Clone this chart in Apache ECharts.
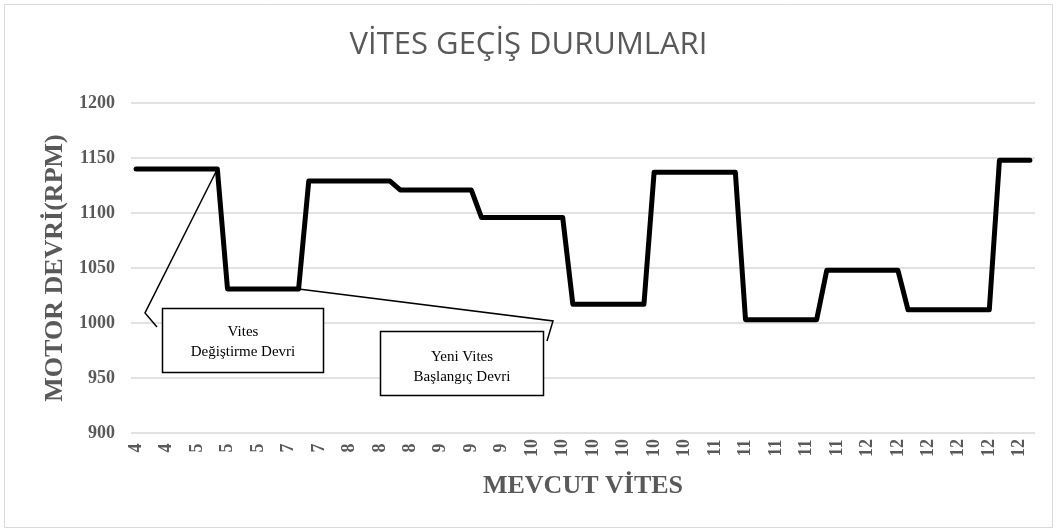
<!DOCTYPE html>
<html>
<head>
<meta charset="utf-8">
<script src="https://cdn.jsdelivr.net/npm/echarts@6/dist/echarts.min.js"></script>
<style>
  html, body { margin: 0; padding: 0; background: #ffffff; }
  #chart { width: 1057px; height: 532px; }
</style>
</head>
<body>
<div id="chart"></div>
<script>
// Current gear for every sample (x-axis categories)
const gears = [
  4, 4, 4, 4, 4, 4,
  5, 5, 5, 5, 5, 5, 5, 5, 5,
  7, 7, 7, 7, 7, 7,
  8, 8, 8, 8, 8, 8, 8, 8, 8,
  9, 9, 9, 9, 9, 9, 9, 9, 9,
  10, 10, 10, 10, 10, 10, 10, 10, 10, 10, 10, 10, 10, 10, 10, 10, 10, 10,
  11, 11, 11, 11, 11, 11, 11, 11, 11, 11, 11, 11, 11, 11, 11,
  12, 12, 12, 12, 12, 12, 12, 12, 12, 12, 12, 12, 12, 12, 12, 12, 12
];

// Engine speed (RPM) for every sample
const rpm = [
  1140, 1140, 1140, 1140, 1140, 1140, 1140, 1140, 1140,
  1031, 1031, 1031, 1031, 1031, 1031, 1031, 1031,
  1129, 1129, 1129, 1129, 1129, 1129, 1129, 1129, 1129,
  1121, 1121, 1121, 1121, 1121, 1121, 1121, 1121,
  1096, 1096, 1096, 1096, 1096, 1096, 1096, 1096, 1096,
  1017, 1017, 1017, 1017, 1017, 1017, 1017, 1017,
  1137, 1137, 1137, 1137, 1137, 1137, 1137, 1137, 1137,
  1003, 1003, 1003, 1003, 1003, 1003, 1003, 1003,
  1048, 1048, 1048, 1048, 1048, 1048, 1048, 1048,
  1012, 1012, 1012, 1012, 1012, 1012, 1012, 1012, 1012,
  1148, 1148, 1148, 1148
];

// Value axis range
const yMin = 900;
const yMax = 1200;
const yStep = 50;

// Callout texts and the sample each one points at
const calloutTexts = ['Vites\nDeğiştirme Devri', 'Yeni Vites\nBaşlangıç Devri'];
const calloutIndex = [8, 16];

const chartTitle = 'VİTES GEÇİŞ DURUMLARI';
const xName = 'MEVCUT VİTES';
const yName = 'MOTOR DEVRİ(RPM)';

const grey = '#595959';
const gridGrey = '#d9d9d9';
const serif = '"Liberation Serif", "Times New Roman", serif';

const chart = echarts.init(document.getElementById('chart'), null, { renderer: 'canvas' });

chart.setOption({
  backgroundColor: '#ffffff',
  animation: false,
  title: {
    text: chartTitle,
    left: 'center',
    top: 25,
    textStyle: {
      fontFamily: '"Open Sans", Lato, sans-serif',
      fontSize: 31,
      fontWeight: 'normal',
      color: grey
    }
  },
  grid: { left: 131, right: 22, top: 103, bottom: 99, containLabel: false },
  xAxis: {
    type: 'category',
    data: gears,
    boundaryGap: true,
    name: xName,
    nameLocation: 'middle',
    nameGap: 53,
    nameTextStyle: {
      fontFamily: serif, fontSize: 26, fontWeight: 'bold', color: grey,
      verticalAlign: 'middle'
    },
    axisLine: { show: false },
    axisTick: { show: false },
    axisLabel: {
      interval: 2,
      rotate: 90,
      align: 'center',
      margin: 15,
      fontFamily: serif, fontSize: 18, fontWeight: 'bold', color: grey
    }
  },
  yAxis: {
    type: 'value',
    min: yMin,
    max: yMax,
    interval: yStep,
    name: yName,
    nameLocation: 'middle',
    nameGap: 73,
    nameTextStyle: {
      fontFamily: serif, fontSize: 26, fontWeight: 'bold', color: grey,
      verticalAlign: 'middle'
    },
    axisLine: { show: false },
    axisTick: { show: false },
    axisLabel: {
      margin: 16,
      formatter: (v) => String(v),
      fontFamily: serif, fontSize: 18, fontWeight: 'bold', color: grey
    },
    splitLine: { lineStyle: { color: gridGrey, width: 1.5 } }
  },
  series: [{
    type: 'line',
    data: rpm,
    symbol: 'none',
    smooth: false,
    lineStyle: { color: '#000000', width: 5, cap: 'round', join: 'round' },
    z: 3
  }]
});

// Callout boxes with leader lines anchored on the series points
function drawCallouts() {
  const a1 = chart.convertToPixel({ seriesIndex: 0 }, [calloutIndex[0], rpm[calloutIndex[0]]]);
  const a2 = chart.convertToPixel({ seriesIndex: 0 }, [calloutIndex[1], rpm[calloutIndex[1]]]);
  const lineStyle = { stroke: '#000000', lineWidth: 1.5, fill: null };
  const boxStyle = { stroke: '#000000', lineWidth: 1.5, fill: '#ffffff' };
  const textStyle = (x, y, t) => ({
    text: t, x: x, y: y, align: 'center', verticalAlign: 'middle',
    fontFamily: serif, fontSize: 15, fontWeight: 'normal',
    fill: '#000000', lineHeight: 20
  });
  chart.setOption({
    graphic: [
      // outer chart frame
      { type: 'rect', shape: { x: 4.5, y: 4.5, width: 1048, height: 523 },
        style: { stroke: gridGrey, lineWidth: 1, fill: null }, silent: true, z: 0 },
      { type: 'polyline', shape: { points: [a1, [145, 313], [157, 327]] }, style: lineStyle, z: 10 },
      { type: 'rect', shape: { x: 162.5, y: 308.5, width: 161, height: 64 }, style: boxStyle, z: 10 },
      { type: 'text', style: textStyle(243, 342, calloutTexts[0]), z: 11 },
      { type: 'polyline', shape: { points: [a2, [553, 321], [547, 341]] }, style: lineStyle, z: 10 },
      { type: 'rect', shape: { x: 380.5, y: 331.5, width: 163, height: 64 }, style: boxStyle, z: 10 },
      { type: 'text', style: textStyle(462, 367, calloutTexts[1]), z: 11 }
    ]
  });
}
drawCallouts();
</script>
</body>
</html>
